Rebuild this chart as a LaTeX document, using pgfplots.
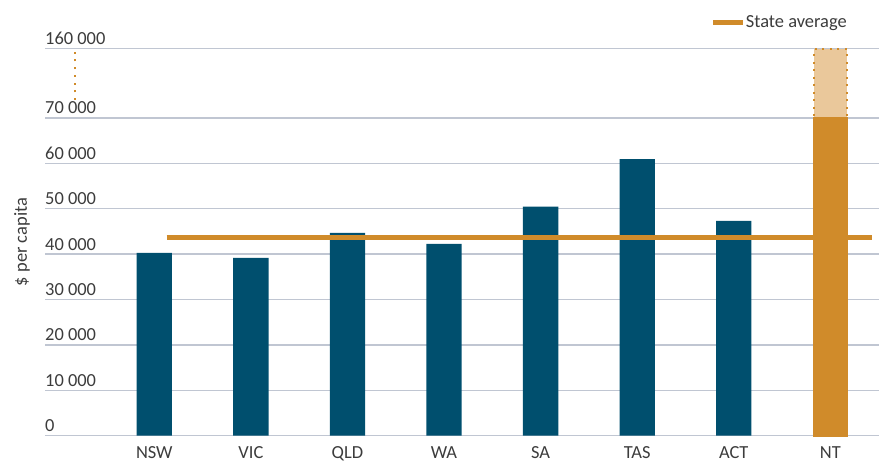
\documentclass[border=0pt]{standalone}
\usepackage{fontspec}
\setmainfont{Carlito}
\usepackage{pgfplots}
\pgfplotsset{compat=1.18}
\definecolor{barblue}{RGB}{0,79,110}
\definecolor{avgorange}{RGB}{208,139,42}
\definecolor{lightorange}{RGB}{234,200,155}
\definecolor{gridgray}{RGB}{192,198,210}
\definecolor{txt}{RGB}{60,60,60}
\begin{document}
\begin{tikzpicture}
\useasboundingbox (0,0) rectangle (884bp,462bp);
\begin{axis}[
 at={(45bp,26.33bp)}, anchor=south west,
 scale only axis, width=833.6bp, height=387.4bp,
 xmin=-1.132, xmax=7.5, ymin=0, ymax=85360,
 axis line style={draw=none},
 major tick length=0pt,
 scaled y ticks=false,
 xtick={0,...,7}, xticklabels={NSW,VIC,QLD,WA,SA,TAS,ACT,NT},
 ytick={0,10000,20000,30000,40000,50000,60000,70000,85360},
 yticklabels={0,{10 000},{20 000},{30 000},{40 000},{50 000},{60 000},{70 000},{160 000}},
 ymajorgrids, major grid style={gridgray, line width=1.3bp},
 tick label style={font=\fontsize{18.5}{21}\selectfont, text=txt},
 yticklabel style={anchor=base west, inner sep=0pt, yshift=4bp},
 xticklabel style={anchor=base, inner sep=0pt, yshift=-23bp},
 ylabel={\$ per capita},
 every axis y label/.style={at={(axis description cs:-0.0216,0.5)}, rotate=90, anchor=base, font=\fontsize{18.5}{21}\selectfont, text=txt, inner sep=0pt},
 clip=false,
 legend style={draw=none, fill=none, at={(axis description cs:0.7986,1.0665)}, anchor=west, inner sep=0pt, nodes={inner sep=0pt, font=\fontsize{18.5}{21}\selectfont, text=txt}, /tikz/every even column/.append style={column sep=6bp}},
 legend image code/.code={\draw[#1, line width=5bp] (0bp,0bp) -- (30bp,0bp);},
]
\addplot[ybar, bar width=35.3bp, bar shift=0pt, fill=barblue, draw=none, forget plot] coordinates {(0,40290) (1,39190) (2,44680) (3,42260) (4,50440) (5,60950) (6,47320)};
\addplot[ybar, bar width=33.3bp, bar shift=0pt, fill=lightorange, draw=avgorange, line width=2bp, dash pattern=on 2bp off 5.5bp, forget plot] coordinates {(7,85100)};
\addplot[ybar, bar width=33.3bp, bar shift=0pt, fill=avgorange, draw=avgorange, line width=2bp, forget plot] coordinates {(7,69900)};
\addplot[avgorange, line width=2bp, dash pattern=on 2bp off 5.7bp, forget plot] coordinates {(-0.825,73967) (-0.825,85205)};
\addplot[avgorange, line width=5bp] coordinates {(0.128,43650) (7.428,43650)};
\addlegendentry{State average}
\end{axis}
\end{tikzpicture}
\end{document}
